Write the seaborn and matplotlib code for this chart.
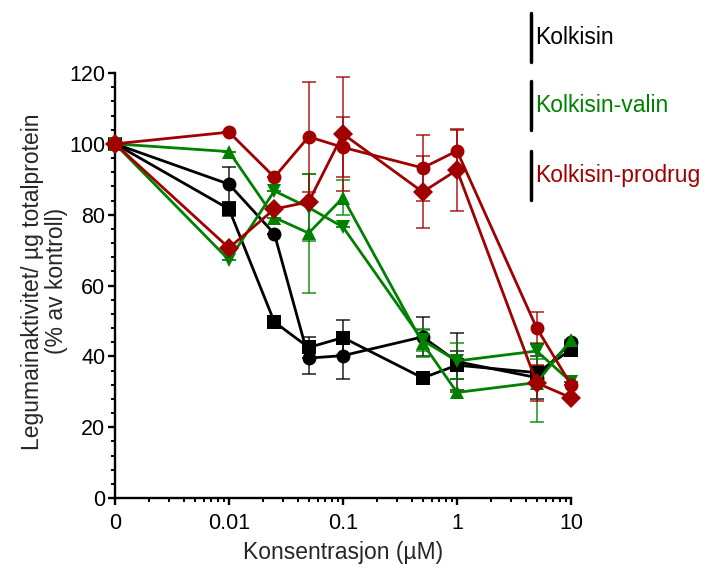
import numpy as np
import pandas as pd
import matplotlib
matplotlib.use("Agg")
import matplotlib.pyplot as plt
from matplotlib.lines import Line2D
from matplotlib.ticker import FixedLocator, LogLocator, MultipleLocator, NullFormatter
import seaborn as sns

# concentrations (uM); 0 is the untreated control
conc = [0, 0.01, 0.025, 0.05, 0.1, 0.5, 1, 5, 10]

kolk_circle = [100, 88.6, 74.6, 39.5, 40.2, 45.5, 38.5, 34.0, 44.0]
kolk_circle_sd = [0, 5.0, 0, 4.5, 6.5, 5.5, 8.0, 6.0, 0]
kolk_square = [100, 81.6, 49.7, 42.5, 45.3, 33.9, 37.5, 35.4, 41.8]
kolk_square_sd = [0, 2.0, 0, 3.0, 5.0, 1.5, 4.0, 2.0, 0]

valin_up = [100, 97.8, 79.2, 74.8, 84.8, 43.7, 29.8, 32.6, 44.6]
valin_up_sd = [0, 0, 0, 16.8, 5.0, 4.0, 0, 11.0, 0]
valin_down = [100, 67.2, 86.7, 82.0, 76.5, 44.5, 38.7, 41.5, 32.8]
valin_down_sd = [0, 0, 0, 9.5, 0, 3.0, 5.0, 2.2, 0]

prod_circle = [100, 103.3, 90.6, 102.0, 99.0, 93.2, 98.0, 48.0, 32.0]
prod_circle_sd = [0, 0, 0, 15.5, 8.5, 9.3, 6.0, 4.5, 0]
prod_diamond = [100, 70.6, 81.6, 83.6, 102.8, 86.4, 92.6, 32.5, 28.3]
prod_diamond_sd = [0, 0, 0, 0, 16.0, 10.2, 11.7, 5.0, 0]

groups = ["Kolkisin", "Kolkisin-valin", "Kolkisin-prodrug"]
group_colors = {"Kolkisin": "black", "Kolkisin-valin": "#008000",
                "Kolkisin-prodrug": "#a00000"}

series = [
    ("kolk_o", "Kolkisin", "o", kolk_circle, kolk_circle_sd),
    ("kolk_s", "Kolkisin", "s", kolk_square, kolk_square_sd),
    ("valin_up", "Kolkisin-valin", "^", valin_up, valin_up_sd),
    ("valin_down", "Kolkisin-valin", "v", valin_down, valin_down_sd),
    ("prod_o", "Kolkisin-prodrug", "o", prod_circle, prod_circle_sd),
    ("prod_D", "Kolkisin-prodrug", "D", prod_diamond, prod_diamond_sd),
]

# 0 is placed one decade below 0.01 on the log axis
x_zero = 0.001
xpos = [x_zero if c == 0 else c for c in conc]

rows = []
for name, grp, mk, vals, sds in series:
    for x, v, s in zip(xpos, vals, sds):
        rows.append({"series": name, "group": grp, "x": x, "y": v, "sd": s})
df = pd.DataFrame(rows)

sns.set_style("ticks")
plt.rcParams["font.family"] = ["Liberation Sans", "DejaVu Sans"]
FS = 16.5

fig = plt.figure(figsize=(7.08, 5.68), dpi=100)
ax = fig.add_axes([115 / 708, 70 / 568, 456 / 708, 425 / 568])

palette = {name: group_colors[grp] for name, grp, *_ in series}
markers = {name: mk for name, _, mk, *_ in series}

for name, grp, mk, vals, sds in series:
    sub = df[df["series"] == name]
    col = group_colors[grp]
    ax.errorbar(sub["x"], sub["y"], yerr=sub["sd"], fmt="none", ecolor=col,
                alpha=0.75, elinewidth=1.3, capsize=5, capthick=1.3,
                clip_on=False, zorder=2)

sns.lineplot(data=df, x="x", y="y", hue="series", style="series",
             palette=palette, markers=markers, dashes=False, ax=ax,
             linewidth=2.0, markersize=10, markeredgewidth=0, legend=False,
             sort=False, estimator=None, clip_on=False, zorder=3)

ax.set_xscale("log")
ax.set_xlim(x_zero, 10)
ax.set_ylim(0, 120)
ax.xaxis.set_major_locator(FixedLocator([0.001, 0.01, 0.1, 1, 10]))
ax.set_xticklabels(["0", "0.01", "0.1", "1", "10"])
ax.xaxis.set_minor_locator(LogLocator(base=10, subs=np.arange(2, 10)))
ax.xaxis.set_minor_formatter(NullFormatter())
ax.yaxis.set_major_locator(MultipleLocator(20))
ax.yaxis.set_minor_locator(MultipleLocator(4))

for side in ["top", "right"]:
    ax.spines[side].set_visible(False)
for side in ["left", "bottom"]:
    ax.spines[side].set_linewidth(1.7)
    ax.spines[side].set_color("black")
ax.tick_params(which="major", length=5, width=1.7, labelsize=15.5, colors="black")
ax.tick_params(which="minor", length=3, width=1.4, colors="black")
ax.tick_params(axis="x", which="major", pad=6)
ax.tick_params(axis="y", which="major", pad=2)

ax.set_xlabel("Konsentrasjon (µM)", fontsize=FS, labelpad=5)
ax.set_ylabel("Legumainaktivitet/ µg totalprotein\n(% av kontroll)", fontsize=FS,
              linespacing=1.05)
ax.yaxis.set_label_coords(-0.103, 0.51)

# legend: bar + coloured label, as in the original figure
legend_y = [(13, 62), (81, 130), (151, 200)]
for grp, (y0, y1) in zip(groups, legend_y):
    fig.add_artist(Line2D([531 / 708, 531 / 708], [1 - y0 / 568, 1 - y1 / 568],
                          transform=fig.transFigure, color="black", lw=2.5))
    fig.text(535 / 708, 1 - (y0 + y1) / 2 / 568, grp, color=group_colors[grp],
             fontsize=FS, va="center", ha="left")

fig.savefig("out.png", dpi=100)
